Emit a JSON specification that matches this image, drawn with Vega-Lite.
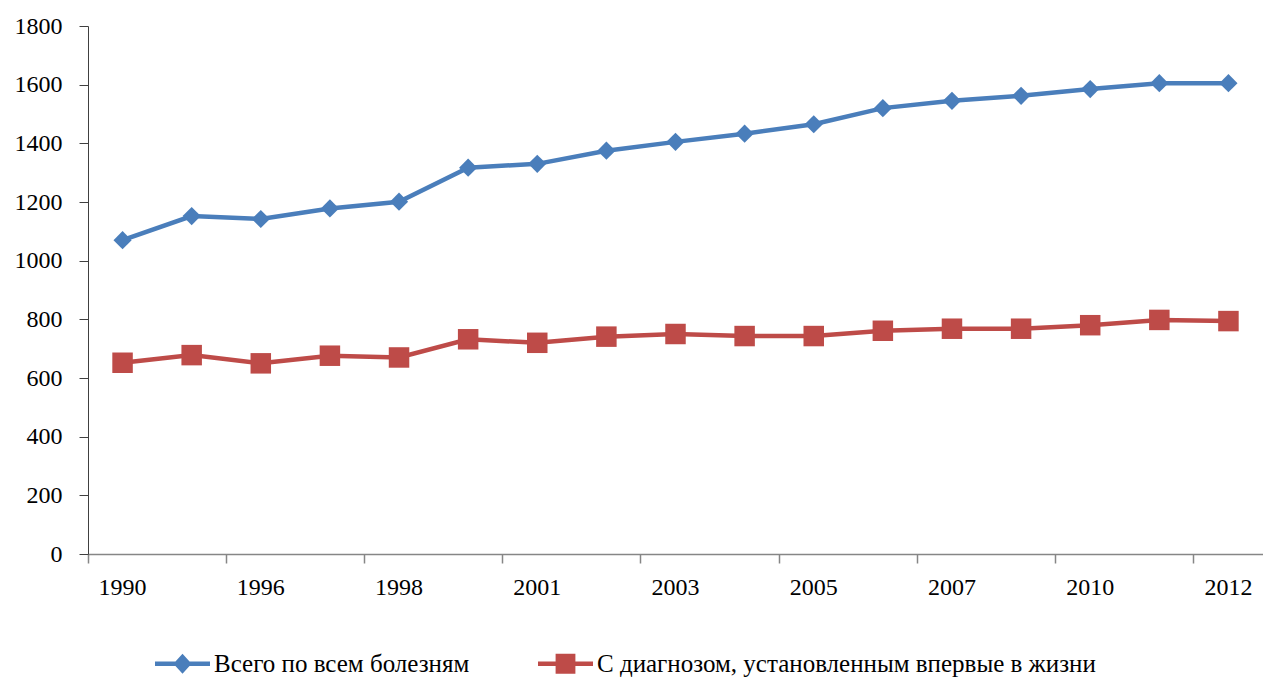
{
  "$schema": "https://vega.github.io/schema/vega-lite/v6.json",
  "width": 1175,
  "height": 528,
  "autosize": {"type": "none"},
  "padding": {"left": 88, "top": 26, "right": 0, "bottom": 125},
  "background": "white",
  "config": {
    "view": {"stroke": null},
    "font": "Liberation Serif"
  },
  "data": {
    "values": [
      {"year": "1990", "series": "Всего по всем болезням", "value": 1070},
      {"year": "1995", "series": "Всего по всем болезням", "value": 1152},
      {"year": "1996", "series": "Всего по всем болезням", "value": 1142},
      {"year": "1997", "series": "Всего по всем болезням", "value": 1178},
      {"year": "1998", "series": "Всего по всем болезням", "value": 1201},
      {"year": "2000", "series": "Всего по всем болезням", "value": 1317},
      {"year": "2001", "series": "Всего по всем болезням", "value": 1330},
      {"year": "2002", "series": "Всего по всем болезням", "value": 1375},
      {"year": "2003", "series": "Всего по всем болезням", "value": 1405},
      {"year": "2004", "series": "Всего по всем болезням", "value": 1433},
      {"year": "2005", "series": "Всего по всем болезням", "value": 1465},
      {"year": "2006", "series": "Всего по всем болезням", "value": 1520},
      {"year": "2007", "series": "Всего по всем болезням", "value": 1545},
      {"year": "2009", "series": "Всего по всем болезням", "value": 1562},
      {"year": "2010", "series": "Всего по всем болезням", "value": 1585},
      {"year": "2011", "series": "Всего по всем болезням", "value": 1605},
      {"year": "2012", "series": "Всего по всем болезням", "value": 1605},
      {"year": "1990", "series": "С диагнозом, установленным впервые в жизни", "value": 652},
      {"year": "1995", "series": "С диагнозом, установленным впервые в жизни", "value": 678},
      {"year": "1996", "series": "С диагнозом, установленным впервые в жизни", "value": 650},
      {"year": "1997", "series": "С диагнозом, установленным впервые в жизни", "value": 676},
      {"year": "1998", "series": "С диагнозом, установленным впервые в жизни", "value": 670},
      {"year": "2000", "series": "С диагнозом, установленным впервые в жизни", "value": 732},
      {"year": "2001", "series": "С диагнозом, установленным впервые в жизни", "value": 720},
      {"year": "2002", "series": "С диагнозом, установленным впервые в жизни", "value": 741},
      {"year": "2003", "series": "С диагнозом, установленным впервые в жизни", "value": 750},
      {"year": "2004", "series": "С диагнозом, установленным впервые в жизни", "value": 743},
      {"year": "2005", "series": "С диагнозом, установленным впервые в жизни", "value": 743},
      {"year": "2006", "series": "С диагнозом, установленным впервые в жизни", "value": 761},
      {"year": "2007", "series": "С диагнозом, установленным впервые в жизни", "value": 768},
      {"year": "2009", "series": "С диагнозом, установленным впервые в жизни", "value": 768},
      {"year": "2010", "series": "С диагнозом, установленным впервые в жизни", "value": 780},
      {"year": "2011", "series": "С диагнозом, установленным впервые в жизни", "value": 798},
      {"year": "2012", "series": "С диагнозом, установленным впервые в жизни", "value": 794}
    ]
  },
  "encoding": {
    "x": {
      "field": "year",
      "type": "ordinal",
      "sort": null,
      "title": null,
      "scale": {"type": "band", "paddingInner": 0, "paddingOuter": 0},
      "axis": {
        "values": ["1990", "1996", "1998", "2001", "2003", "2005", "2007", "2010", "2012"],
        "labelAngle": 0,
        "labelFont": "Liberation Serif",
        "labelFontSize": 24,
        "labelColor": "#000000",
        "grid": false,
        "bandPosition": 0,
        "tickExtra": false,
        "domainColor": "#868686",
        "domainWidth": 1.5,
        "tickColor": "#868686",
        "tickWidth": 1.5,
        "tickSize": 9,
        "labelPadding": 12
      }
    },
    "y": {
      "field": "value",
      "type": "quantitative",
      "title": null,
      "scale": {"domain": [0, 1800], "nice": false},
      "axis": {
        "values": [0, 200, 400, 600, 800, 1000, 1200, 1400, 1600, 1800],
        "format": "d",
        "labelFont": "Liberation Serif",
        "labelFontSize": 24,
        "labelColor": "#000000",
        "grid": false,
        "domainColor": "#404040",
        "tickColor": "#404040",
        "tickSize": 9,
        "labelPadding": 17
      }
    },
    "color": {
      "field": "series",
      "type": "nominal",
      "sort": null,
      "scale": {"domain": ["Всего по всем болезням", "С диагнозом, установленным впервые в жизни"], "range": ["#4A7EBB", "#BE4B48"]},
      "legend": {
        "orient": "none",
        "direction": "horizontal",
        "legendX": 67,
        "legendY": 610,
        "title": null,
        "labelFont": "Liberation Serif",
        "labelFontSize": 25,
        "labelColor": "#000000",
        "symbolSize": 3025,
        "symbolStrokeWidth": 0,
        "labelOffset": 4,
        "labelLimit": 0,
        "columnPadding": 68,
        "encode": {
          "symbols": {
            "update": {
              "shape": {"signal": "datum.value === 'Всего по всем болезням' ? 'M-1,-0.08H1V0.08H-1Z M-0.33,0L0,-0.36L0.33,0L0,0.36Z' : 'M-1,-0.08H1V0.08H-1Z M-0.36,-0.36H0.36V0.36H-0.36Z'"},
              "fill": {"signal": "datum.value === 'Всего по всем болезням' ? '#4A7EBB' : '#BE4B48'"},
              "strokeWidth": {"value": 0}
            }
          }
        }
      }
    }
  },
  "layer": [
    {"mark": {"type": "line", "strokeWidth": 4.5}},
    {
      "transform": [{"filter": "datum.series === 'Всего по всем болезням'"}],
      "mark": {"type": "point", "filled": true, "opacity": 1, "strokeWidth": 0, "shape": "diamond", "size": 330}
    },
    {
      "transform": [{"filter": "datum.series !== 'Всего по всем болезням'"}],
      "mark": {"type": "point", "filled": true, "opacity": 1, "strokeWidth": 0, "shape": "square", "size": 420}
    }
  ]
}
